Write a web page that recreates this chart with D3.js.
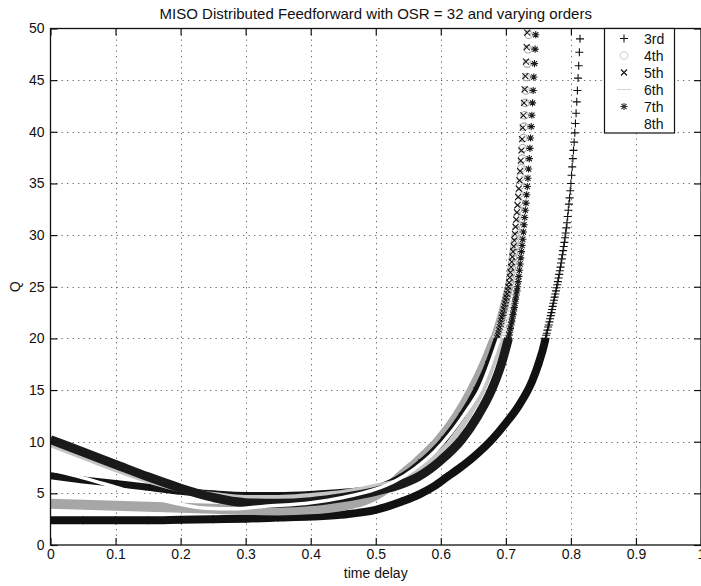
<!DOCTYPE html>
<html><head><meta charset="utf-8">
<script src="https://cdnjs.cloudflare.com/ajax/libs/d3/7.8.5/d3.min.js"></script>
<style>
body{margin:0;background:#fff;}
svg text{font-family:"Liberation Sans",Arial,Helvetica,sans-serif;fill:#111;}
</style></head><body>
<svg id="chart" width="701" height="586"></svg>
<script>
// ---------------- data ----------------
const xTicks = [0,0.1,0.2,0.3,0.4,0.5,0.6,0.7,0.8,0.9,1];
const xTickLabels = ["0","0.1","0.2","0.3","0.4","0.5","0.6","0.7","0.8","0.9","1"];
const yTicks = [0,5,10,15,20,25,30,35,40,45,50];
const yTickLabels = ["0","5","10","15","20","25","30","35","40","45","50"];
const seriesNames = ["3rd","4th","5th","6th","7th","8th"];

const t3 = [0,0.05,0.1,0.15,0.2,0.25,0.3,0.35,0.4,0.45,0.5,0.54,0.57,0.59,0.61,0.63,0.65,0.68,0.70,0.72,0.74,0.75,0.76,
  0.761,0.762,0.763,0.764,0.765,0.766,0.767,0.768,0.769,0.770,0.771,0.772,0.773,0.774,0.775,0.776,0.777,0.778,0.779,0.780,
  0.781,0.782,0.783,0.784,0.785,0.786,0.787,0.788,0.789,0.790,0.791,0.792,0.793,0.794,0.795,0.796,0.797,0.798,0.799,0.800,
  0.801,0.802,0.803,0.804,0.805,0.806,0.807,0.808,0.809,0.810,0.811,0.812,0.813,0.814];
const q3 = [2.4,2.4,2.4,2.4,2.45,2.5,2.55,2.65,2.75,2.95,3.4,4.2,5.0,5.7,6.6,7.5,8.5,10.3,11.8,13.5,15.8,17.5,19.7,
  20.0,20.3,20.5,20.8,21.1,21.3,21.6,21.9,22.2,22.5,22.8,23.1,23.4,23.7,24.0,24.3,24.6,24.9,25.2,25.5,
  25.85,26.2,26.55,26.9,27.3,27.7,28.1,28.5,28.9,29.3,29.75,30.2,30.7,31.2,31.8,32.4,33.0,33.6,34.3,35.0,
  35.8,36.6,37.4,38.2,39.0,39.9,40.8,41.8,42.9,44.0,45.2,46.4,47.7,49.0];

const t4 = [0,0.05,0.1,0.15,0.2,0.25,0.3,0.35,0.4,0.45,0.49,0.51,0.525,0.537,0.563,0.598,0.625,0.648,0.667,0.683,
  0.684,0.685,0.686,0.687,0.688,0.689,0.690,0.691,0.692,0.693,0.694,0.695,0.696,0.697,0.698,0.699,0.700,0.701,0.702,0.703,0.704,0.705,
  0.706,0.707,0.708,0.709,0.710,0.711,0.712,0.713,0.714,0.715,0.716,0.717,0.718,0.719,0.720,0.721,0.722,0.723,0.724,0.725,0.726,0.727,0.728,0.729,0.730,0.731,0.732,0.733,0.734,0.735];
const q4 = [4.0,3.9,3.8,3.7,3.6,3.5,3.4,3.35,3.45,3.8,4.5,5.2,5.9,6.6,8.0,10.2,12.5,15,17.5,20,
  20.2,20.4,20.6,20.8,21.0,21.2,21.4,21.6,21.85,22.05,22.3,22.5,22.75,23.0,23.25,23.5,23.75,24.0,24.25,24.5,24.75,25.0,
  25.4,25.8,26.3,26.8,27.3,27.8,28.3,28.8,29.3,29.9,30.5,31.1,31.8,32.5,33.2,34.0,34.8,35.6,36.5,37.4,38.4,39.4,40.5,41.6,42.8,44.0,45.3,46.6,48.0,49.4];

const t5 = [0,0.05,0.1,0.15,0.2,0.25,0.3,0.35,0.4,0.45,0.5,0.54,0.57,0.605,0.632,0.655,0.673,0.687,
  0.688,0.689,0.690,0.691,0.692,0.693,0.694,0.695,0.696,0.697,0.698,0.699,0.700,0.701,0.702,0.703,0.704,
  0.705,0.706,0.707,0.708,0.709,0.710,0.711,0.712,0.713,0.714,0.715,0.716,0.717,0.718,0.719,0.720,0.721,0.722,0.723,0.724,0.725,0.726,0.727,0.728,0.729,0.730,0.731,0.732,0.733];
const q5 = [6.7,6.3,5.95,5.6,5.2,4.95,4.8,4.8,4.9,5.1,5.5,6.6,8.0,10.2,12.5,15,17.5,20,
  20.25,20.5,20.8,21.1,21.4,21.7,22.0,22.25,22.5,22.8,23.1,23.4,23.7,24.0,24.3,24.65,25.0,
  25.4,25.9,26.4,26.9,27.4,27.9,28.4,28.9,29.5,30.1,30.8,31.5,32.2,32.9,33.7,34.5,35.3,36.2,37.2,38.2,39.3,40.4,41.6,42.8,44.1,45.4,46.8,48.2,49.6];

const t6 = [0,0.05,0.1,0.15,0.2,0.25,0.3,0.35,0.4,0.45,0.5,0.55,0.59,0.618,0.643,0.665,0.681,0.694,
  0.695,0.696,0.697,0.698,0.699,0.700,0.701,0.702,0.703,0.704,0.705,0.706,0.707,0.708,0.709,0.710,0.711,
  0.712,0.713,0.714,0.715,0.716,0.717,0.718,0.719,0.720,0.721,0.722,0.723,0.724,0.725,0.726,0.727,0.728,0.729,0.730,0.731,0.732,0.733,0.734,0.735,0.736,0.737,0.738,0.739,0.740];
const q6 = [9.7,8.5,7.3,6.2,5.35,4.9,4.6,4.6,4.8,5.1,5.7,6.6,8.5,10.2,12.5,15,17.5,20,
  20.3,20.55,20.8,21.05,21.3,21.55,21.8,22.05,22.35,22.65,22.95,23.3,23.6,23.95,24.3,24.65,25.0,
  25.4,25.9,26.4,26.9,27.5,28.1,28.7,29.3,29.9,30.5,31.2,31.9,32.6,33.3,34.1,34.9,35.7,36.6,37.5,38.5,39.5,40.6,41.7,42.9,44.1,45.4,46.7,48.1,49.5];

const t7 = [0,0.05,0.1,0.15,0.2,0.25,0.3,0.35,0.4,0.45,0.5,0.54,0.565,0.6,0.632,0.657,0.678,0.693,0.704,
  0.705,0.706,0.707,0.708,0.709,0.710,0.711,0.712,0.713,0.714,0.715,0.716,0.717,0.718,
  0.719,0.720,0.721,0.722,0.723,0.724,0.725,0.726,0.727,0.728,0.729,0.730,0.731,0.732,0.733,0.734,0.735,0.736,0.737,0.738,0.739,0.740,0.741,0.742,0.743,0.744,0.745,0.746];
const q7 = [10.2,9.0,7.8,6.6,5.5,4.6,4.1,4.05,4.2,4.6,5.2,5.9,6.6,8.2,10.2,12.5,15,17.5,20,
  20.3,20.6,20.95,21.3,21.6,21.95,22.3,22.65,23.0,23.4,23.8,24.2,24.6,25.0,
  25.5,26.0,26.6,27.2,27.8,28.4,29.0,29.6,30.3,31.0,31.7,32.4,33.1,33.9,34.7,35.5,36.4,37.4,38.4,39.4,40.5,41.6,42.8,44.0,45.3,46.6,48.0,49.4];

const t8 = [0,0.05,0.1,0.15,0.2,0.24,0.28,0.33,0.4,0.45,0.5,0.53,0.56,0.59,0.615,0.64,0.66,0.69,0.708,0.72,0.73,0.737,0.742];
const q8 = [7.3,6.5,5.6,4.7,3.95,3.55,3.5,3.75,4.1,4.6,5.4,6.2,7.4,9.0,10.8,13,15,20,25,30,36,42,49];

// ---------------- styles ----------------
const styles = {
  "3rd": {sym:"plus",   stroke:"#111",    band:"#111",    bandW:8,  bandTop:20.05},
  "4th": {sym:"circle", stroke:"#a9a9a9", band:"#a6a6a6", bandW:10, bandTop:20.05},
  "5th": {sym:"cross",  stroke:"#111",    band:"#141414", bandW:7,  bandTop:20.05},
  "6th": {sym:"dash",   stroke:"#c6c6c6", band:"#c4c4c4", bandW:5,  bandTop:20.05},
  "7th": {sym:"star",   stroke:"#1a1a1a", band:"#1a1a1a", bandW:9,  bandTop:20.05},
  "8th": {sym:"none",   stroke:"#ffffff", band:"#ffffff", bandW:3.5, bandTop:20.05}
};
const seriesT = [t3,t4,t5,t6,t7,t8];
const seriesQ = [q3,q4,q5,q6,q7,q8];

// ---------------- layout ----------------
const svg = d3.select("#chart");
const PL = 50.5, PR = 701, PT = 28.5, PB = 545;
const xs = d3.scaleLinear().domain([0,1]).range([PL,PR]);
const ys = d3.scaleLinear().domain([0,50]).range([PB,PT]);

svg.append("rect").attr("width",701).attr("height",586).attr("fill","#fff");

// grid
const grid = svg.append("g").attr("stroke","#6a6a6a").attr("stroke-width",1).attr("stroke-dasharray","1.3,4.2");
grid.selectAll("line.gx").data(xTicks.slice(1,-1)).join("line").attr("class","gx")
  .attr("x1",d=>Math.round(xs(d))+0.5).attr("x2",d=>Math.round(xs(d))+0.5).attr("y1",PT).attr("y2",PB);
grid.selectAll("line.gy").data(yTicks.slice(1,-1)).join("line").attr("class","gy")
  .attr("y1",d=>Math.round(ys(d))+0.5).attr("y2",d=>Math.round(ys(d))+0.5).attr("x1",PL).attr("x2",PR);

// series
svg.append("clipPath").attr("id","plotclip").append("rect")
  .attr("x",PL).attr("y",PT-2).attr("width",PR-PL).attr("height",PB-PT+2);
const plot = svg.append("g").attr("clip-path","url(#plotclip)");

const symPath = {
  plus:"M-4,0H4M0,-4V4",
  cross:"M-3,-3L3,3M-3,3L3,-3",
  star:"M-3.6,0H3.6M0,-3.6V3.6M-2.6,-2.6L2.6,2.6M-2.6,2.6L2.6,-2.6",
  dash:"M-3.5,0H3.5",
  circle:"M3.8,0A3.8,3.8 0 1,1 -3.8,0A3.8,3.8 0 1,1 3.8,0Z"
};

seriesNames.forEach((name,si)=>{
  const st = styles[name];
  const tv = seriesT[si], qv = seriesQ[si];
  const idx = d3.range(tv.length);
  const bandIdx = idx.filter(i=>qv[i] <= st.bandTop);
  const line = d3.line().x(i=>xs(tv[i])).y(i=>ys(qv[i])).curve(d3.curveMonotoneX);
  plot.append("path").attr("d",line(bandIdx)).attr("fill","none")
    .attr("stroke",st.band).attr("stroke-width",st.bandW).attr("stroke-linecap","butt").attr("stroke-linejoin","round");
  if (st.sym !== "none") {
    plot.append("g").selectAll("path").data(idx.filter(i=>qv[i] <= 50)).join("path")
      .attr("transform",i=>`translate(${xs(tv[i])},${ys(qv[i])})`)
      .attr("d",symPath[st.sym]).attr("fill","none")
      .attr("stroke",st.stroke).attr("stroke-width",1.1);
  }
});

// axes
const ax = svg.append("g");
const axBottom = d3.axisBottom(xs).tickValues(xTicks).tickFormat((d,i)=>xTickLabels[i]).tickSizeInner(-7).tickSizeOuter(0).tickPadding(4);
const axLeft = d3.axisLeft(ys).tickValues(yTicks).tickFormat((d,i)=>yTickLabels[i]).tickSizeInner(-7).tickSizeOuter(0).tickPadding(6);
const axTop = d3.axisTop(xs).tickValues(xTicks).tickFormat("").tickSizeInner(-7).tickSizeOuter(0);
const axRight = d3.axisRight(ys).tickValues(yTicks).tickFormat("").tickSizeInner(-7).tickSizeOuter(0);
[ [axBottom,`translate(0,${PB})`],[axLeft,`translate(${PL},0)`],[axTop,`translate(0,${PT})`],[axRight,`translate(${PR},0)`] ]
  .forEach(([a,tr])=>{
    const g = ax.append("g").attr("transform",tr).call(a);
    g.select(".domain").remove();
    g.selectAll(".tick line").attr("stroke","#111").attr("stroke-width",1.2);
    g.selectAll("text").attr("font-size",14).attr("fill","#111")
      .attr("font-family",'"Liberation Sans",Arial,sans-serif');
  });
svg.append("rect").attr("x",PL).attr("y",PT).attr("width",PR-PL).attr("height",PB-PT)
  .attr("fill","none").attr("stroke","#111").attr("stroke-width",1.3);

// labels
svg.append("text").attr("x",(PL+PR)/2).attr("y",18.5).attr("text-anchor","middle").attr("font-size",15)
  .text("MISO Distributed Feedforward with OSR = 32 and varying orders");
svg.append("text").attr("x",(PL+PR)/2).attr("y",578).attr("text-anchor","middle").attr("font-size",14)
  .text("time delay");
svg.append("text").attr("transform",`translate(20,${(PT+PB)/2}) rotate(-90)`).attr("text-anchor","middle").attr("font-size",14)
  .text("Q");

// legend
const lg = svg.append("g");
lg.append("rect").attr("x",604.5).attr("y",PT).attr("width",70).attr("height",104.5)
  .attr("fill","#fff").attr("stroke","#111").attr("stroke-width",1.2);
const legendColor = {"3rd":"#111","4th":"#cfcfcf","5th":"#111","6th":"#d4d4d4","7th":"#333","8th":"#fff"};
seriesNames.forEach((name,i)=>{
  const cy = 38.5 + i*17;
  const st = styles[name];
  if (st.sym === "dash") {
    lg.append("line").attr("x1",617).attr("x2",631).attr("y1",cy).attr("y2",cy)
      .attr("stroke",legendColor[name]).attr("stroke-width",1);
  } else if (st.sym !== "none") {
    lg.append("path").attr("transform",`translate(624,${cy})`).attr("d",symPath[st.sym])
      .attr("fill","none").attr("stroke",legendColor[name]).attr("stroke-width",1.1);
  }
  lg.append("text").attr("x",644).attr("y",cy+5).attr("font-size",14).text(name);
});
</script>
</body></html>
